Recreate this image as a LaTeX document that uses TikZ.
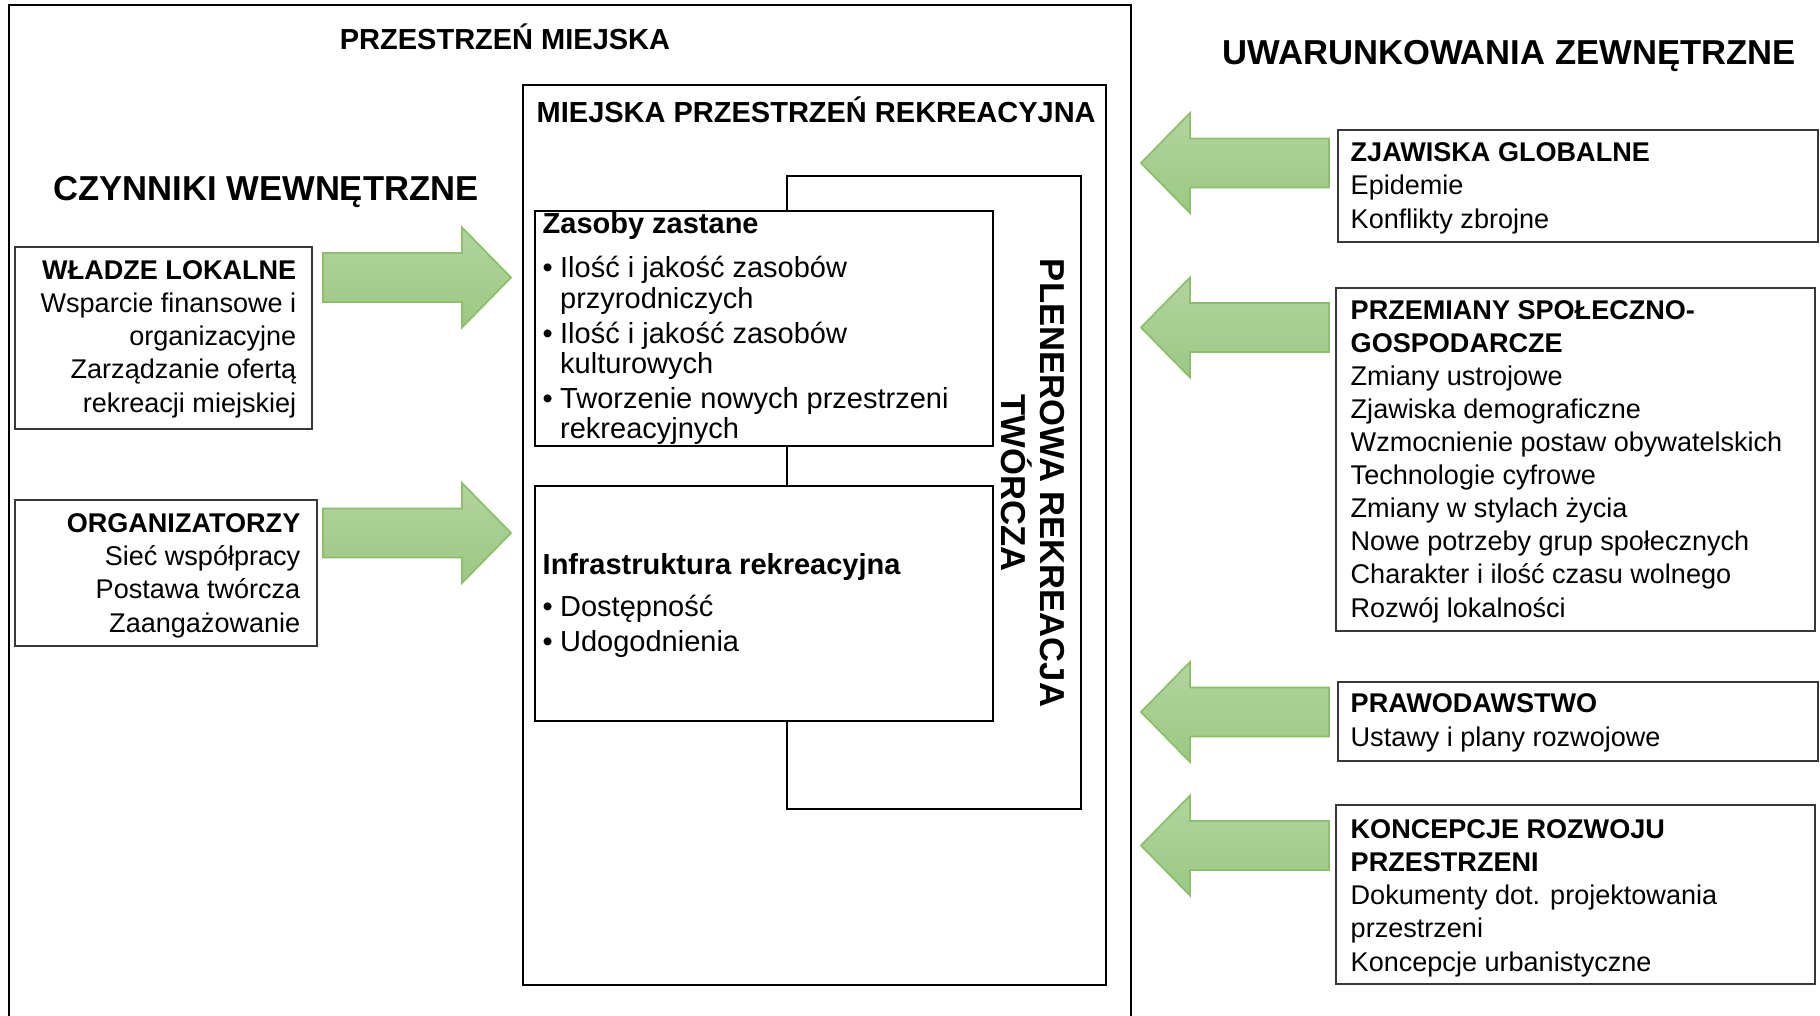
\documentclass[tikz,border=0pt]{standalone}
\usepackage{fontspec}
\setmainfont{Liberation Sans}

\definecolor{zielenA}{HTML}{B1D59D}
\definecolor{zielenB}{HTML}{9CC883}
\definecolor{zielenC}{HTML}{8DBE6C}

\newcommand\fmaly{\fontsize{7.7}{9.4}\selectfont}
\newcommand\fsredni{\fontsize{8.25}{8.7}\selectfont}
\newcommand\fduzy{\fontsize{9.85}{11.2}\selectfont}
\newcommand\pkt{\makebox[0.175cm][l]{\textbullet}}
\newcommand\wc{\hspace*{0.175cm}}

\begin{document}
\begin{tikzpicture}[
  ramka/.style={draw=black, line width=0.6pt, fill=white, inner sep=0pt, anchor=north west},
  boks/.style={ramka, draw=black!78},
  tekst/.style={inner sep=0pt, font=\fmaly},
  zielen/.style={top color=zielenA, bottom color=zielenB, draw=zielenC, line width=0.5pt},
  % strzalka w lewo, grot w (0,0)
  strzalka/.pic={
    \path[zielen] (0,0) -- (0.49,0.5) -- (0.49,0.245) -- (1.88,0.245)
      -- (1.88,-0.245) -- (0.49,-0.245) -- (0.49,-0.5) -- cycle;},
]
  \useasboundingbox (0,0) rectangle (18.2,-10.16);
  % przestrzen miejska (rama otwarta u dolu)
  \draw[line width=0.6pt] (0.09,-10.2) -- (0.09,-0.05) -- (11.31,-0.05) -- (11.31,-10.2);
  \node[font=\bfseries\fsredni, anchor=base, inner sep=0pt] (miasto) at (5.05,-0.49) {PRZESTRZEŃ MIEJSKA};

  % miejska przestrzen rekreacyjna
  \node[ramka, minimum width=5.83cm, minimum height=9.00cm] (mpr) at (5.22,-0.84) {};
  \node[tekst, font=\bfseries\fsredni, anchor=base west] (mprTxt) at (5.36,-1.23) {MIEJSKA PRZESTRZEŃ REKREACYJNA};

  \node[ramka, minimum width=2.94cm, minimum height=6.33cm] (plener) at (7.86,-1.75) {};
  \node[font=\bfseries\fduzy, rotate=-90, align=center, inner sep=0pt] (plenerTxt) at (10.33,-4.83)
    {PLENEROWA REKREACJA\\TWÓRCZA};

  \node[ramka, minimum width=4.58cm, minimum height=2.35cm] (zasoby) at (5.34,-2.10) {};
  \node[ramka, minimum width=4.58cm, minimum height=2.35cm] (infra) at (5.34,-4.85) {};

  % kotwica base = linia bazowa ostatniego wiersza
  \node[tekst, font=\fsredni, anchor=base west, align=left] (zasobyTxt) at (5.42,-4.39)
    {\textbf{Zasoby zastane}\\[3.8pt]
     \pkt Ilość i jakość zasobów\\
     \wc przyrodniczych\\[1.2pt]
     \pkt Ilość i jakość zasobów\\
     \wc kulturowych\\[1.2pt]
     \pkt Tworzenie nowych przestrzeni\\
     \wc rekreacyjnych};
  \node[tekst, font=\fsredni, anchor=base west, align=left] (infraTxt) at (5.42,-6.51)
    {\textbf{Infrastruktura rekreacyjna}\\[3.2pt]
     \pkt Dostępność\\[1.2pt]
     \pkt Udogodnienia};

  % czynniki wewnetrzne
  \node[font=\bfseries\fduzy, anchor=base, inner sep=0pt] (wewn) at (2.66,-2.005) {CZYNNIKI WEWNĘTRZNE};
  \node[boks, minimum width=2.97cm, minimum height=1.82cm] (wladze) at (0.14,-2.46) {};
  \node[boks, minimum width=3.02cm, minimum height=1.46cm] (organiz) at (0.14,-4.99) {};
  \node[tekst, anchor=base east, align=right] (wladzeTxt) at (2.97,-4.12)
    {\textbf{WŁADZE LOKALNE}\\Wsparcie finansowe i\\organizacyjne\\Zarządzanie ofertą\\rekreacji miejskiej};
  \node[tekst, anchor=base east, align=right] (organizTxt) at (3.01,-6.32)
    {\textbf{ORGANIZATORZY}\\Sieć współpracy\\Postawa twórcza\\Zaangażowanie};
  \foreach \y in {2.775,5.33} \pic[rotate=180] at (5.11,-\y) {strzalka};

  % uwarunkowania zewnetrzne
  \node[font=\bfseries\fduzy, anchor=base, inner sep=0pt] (zewn) at (15.09,-0.645) {UWARUNKOWANIA ZEWNĘTRZNE};
  \node[boks, minimum width=4.80cm, minimum height=1.12cm] (globalne) at (13.37,-1.29) {};
  \node[boks, minimum width=4.79cm, minimum height=3.43cm] (przemiany) at (13.35,-2.87) {};
  \node[boks, minimum width=4.80cm, minimum height=0.79cm] (prawo) at (13.37,-6.81) {};
  \node[boks, minimum width=4.79cm, minimum height=1.79cm] (koncepcje) at (13.35,-8.04) {};
  \node[tekst, anchor=base west, align=left] (globalneTxt) at (13.50,-2.28)
    {\textbf{ZJAWISKA GLOBALNE}\\Epidemie\\Konflikty zbrojne};
  \node[tekst, anchor=base west, align=left] (przemianyTxt) at (13.50,-6.17)
    {\textbf{PRZEMIANY SPOŁECZNO-}\\\textbf{GOSPODARCZE}\\Zmiany ustrojowe\\Zjawiska demograficzne\\
     Wzmocnienie postaw obywatelskich\\Technologie cyfrowe\\Zmiany w stylach życia\\
     Nowe potrzeby grup społecznych\\Charakter i ilość czasu wolnego\\Rozwój lokalności};
  \node[tekst, anchor=base west, align=left] (prawoTxt) at (13.50,-7.46)
    {\textbf{PRAWODAWSTWO}\\Ustawy i plany rozwojowe};
  \node[tekst, anchor=base west, align=left] (koncepcjeTxt) at (13.50,-9.71)
    {\textbf{KONCEPCJE ROZWOJU}\\\textbf{PRZESTRZENI}\\Dokumenty dot. projektowania\\przestrzeni\\Koncepcje urbanistyczne};
  \foreach \y in {1.63,3.275,7.12,8.455} \pic at (11.41,-\y) {strzalka};
\end{tikzpicture}
\end{document}
